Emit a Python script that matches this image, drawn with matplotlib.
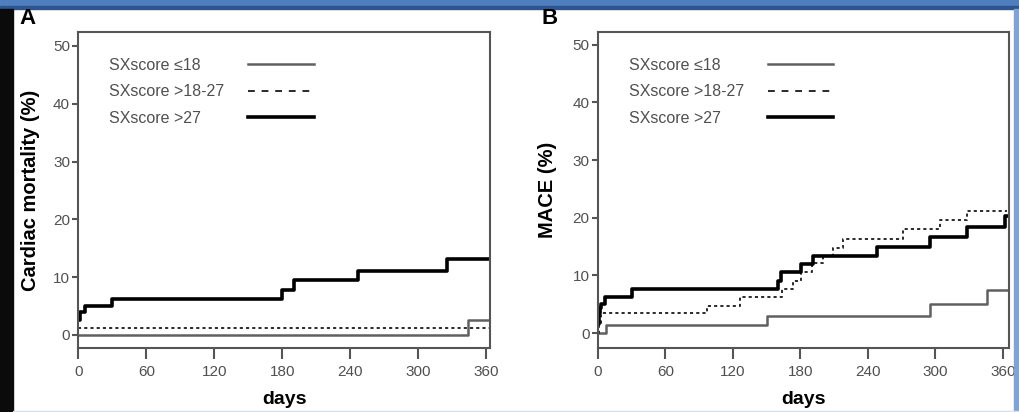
import matplotlib
matplotlib.use("Agg")
import matplotlib.pyplot as plt
from matplotlib.legend import Legend
from matplotlib.patches import Rectangle

plt.rcParams["font.family"] = ["Liberation Sans", "DejaVu Sans"]

# ==========================
# DATA
# ==========================

labels = ["SXscore \u226418", "SXscore >18-27", "SXscore >27"]
x_ticks = [0, 60, 120, 180, 240, 300, 360]
y_ticks = [0, 10, 20, 30, 40, 50]

# panel A - cardiac mortality (%)
a_low_days = [0, 344, 362]
a_low_vals = [0, 2.6, 2.6]
a_mid_days = [0, 362]
a_mid_vals = [1.15, 1.15]
a_high_days = [0, 1.5, 6, 30, 179.5, 190, 246.5, 325.5, 362]
a_high_vals = [2.6, 3.9, 5.0, 6.3, 7.8, 9.5, 11.1, 13.1, 13.1]

# panel B - MACE (%)
b_low_days = [0, 7, 150, 295, 345.6, 364]
b_low_vals = [0, 1.4, 2.9, 5.1, 7.4, 7.4]
b_mid_days = [0, 1, 3, 96.6, 126, 164, 173.6, 181, 190, 200, 209, 218,
              271, 304, 328, 364]
b_mid_vals = [0, 1.8, 3.4, 4.7, 6.3, 7.6, 9.1, 10.6, 12.1, 13.4, 14.8,
              16.3, 18.0, 19.6, 21.2, 21.2]
b_high_days = [0, 0.5, 1, 2, 3, 6, 30, 160, 163, 181, 191.5, 248, 295,
               328, 362, 364]
b_high_vals = [1.5, 2.5, 3.5, 4.3, 5.0, 6.3, 7.6, 9.0, 10.5, 12.0, 13.4,
               15.0, 16.7, 18.4, 20.3, 20.3]

GRAY = "#555555"
TXT = "#505050"

fig = plt.figure(figsize=(10.2, 4.12), dpi=100)

# page decorations (blue band, black bar, borders)
fig.patches.append(Rectangle((0, 1 - 6 / 412), 1, 6 / 412, transform=fig.transFigure,
                             color="#4f7fbf", zorder=0))
fig.patches.append(Rectangle((0, 1 - 8.5 / 412), 1, 2.5 / 412, transform=fig.transFigure,
                             color="#2d5590", zorder=0))
fig.patches.append(Rectangle((0, 0), 13 / 1020, 1 - 8.5 / 412, transform=fig.transFigure,
                             color="#0b0b0b", zorder=0))
fig.patches.append(Rectangle((1 - 6 / 1020, 0), 6 / 1020, 1 - 8.5 / 412,
                             transform=fig.transFigure, color="#7fa3d6", zorder=0))
fig.patches.append(Rectangle((13 / 1020, 0), 1, 1.5 / 412, transform=fig.transFigure,
                             color="#d5e1f1", zorder=0))

ax_a = fig.add_axes([78.3 / 1020, 64 / 412, 411.7 / 1020, 316 / 412])
ax_b = fig.add_axes([598 / 1020, 64 / 412, 411 / 1020, 316 / 412])

panels = [
    (ax_a, a_low_days, a_low_vals, a_mid_days, a_mid_vals, a_high_days, a_high_vals,
     "Cardiac mortality (%)", (0, 363.3), (-2.25, 52.4), 9),
    (ax_b, b_low_days, b_low_vals, b_mid_days, b_mid_vals, b_high_days, b_high_vals,
     "MACE (%)", (0, 365.6), (-2.6, 52.2), 11.5),
]

for ax, ld, lv, md, mv, hd, hv, ylab, xl, yl, ypad in panels:
    l1, = ax.step(ld, lv, where="post", color="#606060", lw=1.8)
    l2, = ax.step(md, mv, where="post", color="#2a2a2a", lw=1.4,
                  linestyle=(0, (1.6, 1.6)))
    l3, = ax.step(hd, hv, where="post", color="black", lw=2.6)

    ax.set_xlim(*xl)
    ax.set_ylim(*yl)
    ax.set_xticks(x_ticks)
    ax.set_yticks(y_ticks)
    ax.tick_params(axis="x", length=8, width=1.5, color=GRAY, labelcolor=TXT,
                   labelsize=11, pad=4)
    ax.tick_params(axis="y", length=4.5, width=1.5, color=GRAY, labelcolor=TXT,
                   labelsize=11, pad=1.5)
    for sp in ax.spines.values():
        sp.set_color(GRAY)
        sp.set_linewidth(1.5)

    ax.set_xlabel("days", fontsize=14, fontweight="bold", labelpad=9)
    ax.set_ylabel(ylab, fontsize=14.5, fontweight="bold", labelpad=ypad)

    # legend: labels column and line-keys column
    handles = [l1, l2, l3]
    leg_txt = ax.legend(handles, labels, loc="upper left",
                        bbox_to_anchor=(0.075, 0.918), frameon=False,
                        handlelength=0, handletextpad=0, borderpad=0,
                        borderaxespad=0, labelspacing=0.72, fontsize=11.5,
                        labelcolor=TXT)
    for h in leg_txt.legend_handles:
        h.set_visible(False)
    leg_key = Legend(ax, handles, ["", "", ""], loc="upper left",
                     bbox_to_anchor=(0.413, 0.918), frameon=False,
                     handlelength=4.1, handletextpad=0, borderpad=0,
                     borderaxespad=0, labelspacing=0.72, fontsize=11.5)
    leg_key.legend_handles[1].set_linestyle((0, (3.5, 3.5)))
    ax.add_artist(leg_key)

fig.text(28 / 1020, 1 - 19 / 412, "A", fontsize=16, fontweight="bold",
         ha="center", va="center")
fig.text(550 / 1020, 1 - 19 / 412, "B", fontsize=16, fontweight="bold",
         ha="center", va="center")

fig.savefig("out.png", dpi=100)
